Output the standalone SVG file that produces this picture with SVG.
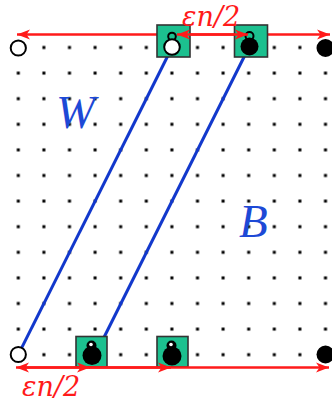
<svg xmlns="http://www.w3.org/2000/svg" width="332" height="405" viewBox="0 0 332 405">
<style>
.box{fill:#1cc08f;stroke:#333;stroke-width:1.6}
.red{stroke:#ff1a1a;stroke-width:2.4;fill:none}
.blue{stroke:#1238cc;stroke-width:3;fill:none}
.open{fill:#fff;stroke:#000;stroke-width:2}
.solid{fill:#000}
.ring{fill:none;stroke:#000;stroke-width:2}
.lbl{font-family:"DejaVu Serif",serif;font-style:italic;fill:#ff1a1a;font-size:27px}
.big{font-family:"Liberation Serif",serif;font-style:italic;fill:#1d49d6;font-size:47px}
</style>
<defs>
<pattern id="dots" patternUnits="userSpaceOnUse" x="5.5" y="34.7" width="25.6" height="25.6">
<rect x="11.3" y="11.3" width="3" height="3" fill="#000"/>
</pattern>
<marker id="ah" markerUnits="userSpaceOnUse" markerWidth="14" markerHeight="11" refX="13" refY="5" orient="auto-start-reverse" viewBox="0 0 14 10">
<path d="M0,0 L13,5 L0,10 L3.5,5 Z" fill="#ff1a1a"/>
</marker>
</defs>
<g id="grid">
<rect x="5.5" y="34.7" width="332.8" height="332.8" fill="url(#dots)"/>
</g>
<g id="connectors">
<line class="red" x1="17" y1="34.5" x2="330" y2="34.5" marker-start="url(#ah)" marker-end="url(#ah)"/>
<line class="blue" x1="172" y1="47.5" x2="18.3" y2="354.7"/>
<line class="blue" x1="249.5" y1="46" x2="95.7" y2="354"/>
</g>
<g id="box-top-1">
<rect class="box" x="157" y="25" width="33" height="32"/>
<circle class="ring" cx="172" cy="36.5" r="3.8"/>
<circle class="open" cx="172" cy="47" r="7.8"/>
</g>
<g id="box-top-2">
<rect class="box" x="234.5" y="25" width="33" height="32"/>
<circle class="ring" cx="249.5" cy="36" r="4"/>
<circle class="solid" cx="249.5" cy="46.5" r="9"/>
</g>
<g id="box-bottom-1">
<rect class="box" x="76" y="336.5" width="31" height="30.5"/>
<circle cx="91.5" cy="345.5" r="5" fill="#000"/>
<circle cx="92" cy="355.5" r="9.5" fill="#000"/>
<circle cx="91" cy="344.5" r="1.8" fill="#fff"/>
</g>
<g id="box-bottom-2">
<rect class="box" x="157" y="336.5" width="31" height="30.5"/>
<circle cx="171.5" cy="345.5" r="5" fill="#000"/>
<circle cx="172" cy="356" r="9.5" fill="#000"/>
<circle cx="171" cy="344.5" r="1.8" fill="#fff"/>
</g>
<g id="node-left-top"><circle class="open" cx="18.3" cy="48" r="7.6"/></g>
<g id="node-right-top"><circle class="solid" cx="325.5" cy="48" r="9"/></g>
<g id="node-left-bottom"><circle class="open" cx="18.3" cy="354.5" r="7.6"/></g>
<g id="node-right-bottom"><circle class="solid" cx="325.5" cy="354.5" r="9"/></g>
<g id="connectors-over">
<line class="red" x1="177" y1="34.5" x2="248" y2="34.5" marker-start="url(#ah)" marker-end="url(#ah)"/>
<line class="red" x1="16" y1="367.5" x2="329" y2="367.5" marker-start="url(#ah)" marker-end="url(#ah)"/>
<line class="red" x1="20" y1="367.5" x2="90" y2="367.5" marker-end="url(#ah)"/>
<line class="red" x1="89" y1="367.5" x2="171" y2="367.5" marker-end="url(#ah)"/>
</g>
<g id="labels">
<text class="lbl" x="182" y="26">εn/2</text>
<text class="lbl" x="22" y="396">εn/2</text>
<text class="big" x="56" y="128">W</text>
<text class="big" x="239" y="237">B</text>
</g>
</svg>
